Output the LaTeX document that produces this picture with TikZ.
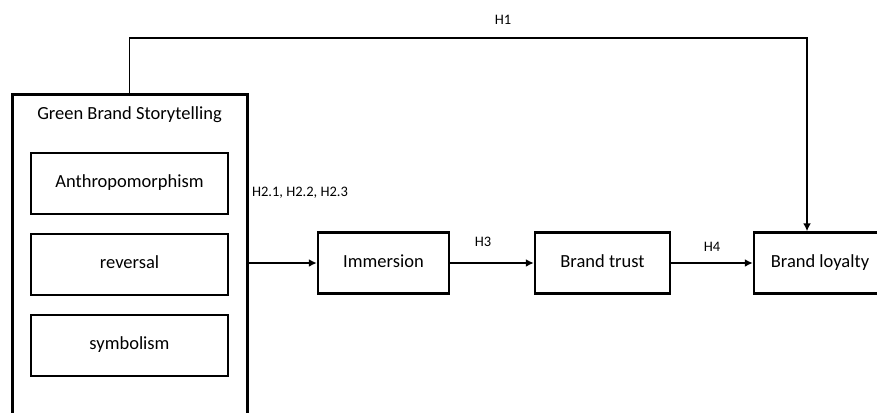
\documentclass[tikz,border=0pt]{standalone}
\usepackage{fontspec}
\setmainfont{Carlito}
\usepackage{tikz}
\usetikzlibrary{positioning,arrows.meta}
\tikzset{
  box/.style={draw, line width=2.5pt, minimum height=61pt, text height=2.1ex, text depth=0.4ex, font=\fontsize{18.5}{22}\selectfont},
  hyp/.style={font=\fontsize{14.5}{17}\selectfont},
  arr/.style={-{Latex[length=8pt,width=8pt]}, line width=1.8pt}
}

\begin{document}
\begin{tikzpicture}[x=1pt, y=-1pt]
    \clip (0,0) rectangle (877,412);

    \node(story) [draw, line width=3pt, minimum width=235pt, minimum height=345pt, anchor=north west, inner sep=0pt, outer sep=0pt] at (12,94) {};
    \node(title) at (129.5,115) [font=\fontsize{18.5}{22}\selectfont] {Green Brand Storytelling};

    \node(anth) [box, minimum width=197pt] at (129.5,183.5) {Anthropomorphism};
    \node(rev) [box, minimum width=197pt, below=17.5pt of anth] {reversal};
    \node(sym) [box, minimum width=197pt, below=17.5pt of rev] {symbolism};

    \node(imm) [box, minimum width=131pt] at (383.5,263) {Immersion};
    \node(trust) [box, minimum width=135pt, right=83.5pt of imm] {Brand trust};
    \node(loyal) [box, minimum width=132pt, right=81.5pt of trust] {Brand loyalty};

    \coordinate(turn) at (807,38);

    \draw[arr] (story.east |- imm.west) -- (imm.west);
    \draw[arr] (imm) -- (trust);
    \draw[arr] (trust) -- (loyal);
    \draw[arr] (story.north -| title) |- (turn) -- (turn |- loyal.north);

    \node(h1) [hyp] at (503,20) {H1};
    \node(h2) [hyp] at (300,193) {H2.1, H2.2, H2.3};
    \node(h3) [hyp] at (483,242) {H3};
    \node(h4) [hyp] at (712,247) {H4};
\end{tikzpicture}
\end{document}
